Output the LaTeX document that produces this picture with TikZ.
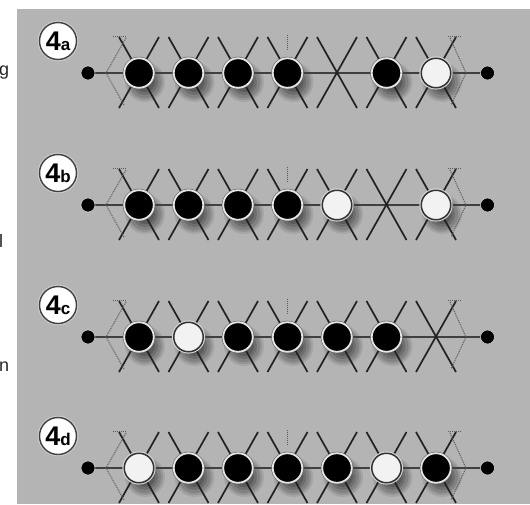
\documentclass[tikz,border=0pt]{standalone}
\usepackage{fontspec}
\setmainfont{Liberation Sans}
\definecolor{panelgray}{HTML}{B4B4B4}
\definecolor{armcol}{HTML}{222222}
\tikzset{
  panel/.style={fill=panelgray},
  lefttext/.style={font=\fontsize{18}{22}\selectfont, text=black!85, inner sep=0pt},
  labcirc/.style={circle, fill=white, draw=black!75, line width=1.4pt, minimum size=37pt, inner sep=0pt, font=\bfseries,
    preaction={draw=white!80!black, line width=3.6pt}},
  blacksite/.style={circle, fill=black, draw=white!90!black, line width=1.8pt, minimum size=29.5pt, inner sep=0pt,
    preaction={draw=black!60, line width=3pt}},
  whitesite/.style={circle, fill=white!95!black, draw=black!80, line width=1.5pt, minimum size=29.5pt, inner sep=0pt,
    preaction={draw=white!85!black, line width=3.6pt}},
  enddot/.style={circle, fill=black, draw=white!80!black, line width=0.6pt, minimum size=14pt, inner sep=0pt},
  arm/.style={draw=armcol, line width=1.7pt},
  bond/.style={draw=black!75, line width=1.5pt},
  ghost/.style={draw=black!65, densely dotted, line width=1pt}
}
\begin{document}
\begin{tikzpicture}[x=1pt,y=-1pt]
\useasboundingbox (0,0) rectangle (530,504);
\fill[panel] (17,9) rectangle (530,504);
\node[lefttext, anchor=base west] (tg) at (-1,75) {g};
\node[lefttext, anchor=base west] (tl) at (-1,247) {l};
\node[lefttext, anchor=base west] (tn) at (-1,371) {n};
\foreach \cy/\lab/\cfg [count=\r] in {73/a/{1,1,1,1,0,1,2}, 205/b/{1,1,1,1,2,0,2}, 337/c/{1,2,1,1,1,1,0}, 468/d/{2,1,1,1,1,2,1}} {
  \coordinate (L\r) at (88,\cy);
  \coordinate (R\r) at (487.5,\cy);
  \foreach \t [count=\k from 0] in \cfg { \coordinate (s\r-\k) at ({139+49.5*\k},\cy); }
  % shadows
  \foreach \t [count=\k from 0] in \cfg {
    \ifnum\t>0
      \foreach \rr/\op in {20/0.08,18/0.1,16/0.12,13/0.15,10/0.17}
        { \fill[black,opacity=\op] ([shift={(6,9)}]s\r-\k) circle (\rr pt); }
    \fi
  }
  % bond line
  \draw[bond] (L\r) -- (R\r);
  % arms
  \foreach \t [count=\k from 0] in \cfg {
    \draw[arm] ([shift={(-20,-36)}]s\r-\k) -- ([shift={(20,35)}]s\r-\k);
    \draw[arm] ([shift={(20,-36)}]s\r-\k) -- ([shift={(-20,35)}]s\r-\k);
  }
  % ghost lines
  \draw[ghost] ([shift={(-13,-35)}]s\r-0) -- ([shift={(-33,0)}]s\r-0) -- ([shift={(-15,32)}]s\r-0);
  \draw[ghost] ([shift={(-26,-37)}]s\r-0) -- ([shift={(-12,-37)}]s\r-0);
  \draw[ghost] ([shift={(14,-35)}]s\r-6) -- ([shift={(30,0)}]s\r-6) -- ([shift={(15,32)}]s\r-6);
  \draw[ghost] ([shift={(12,-37)}]s\r-6) -- ([shift={(26,-37)}]s\r-6);
  \draw[ghost] ([shift={(0,-38)}]s\r-3) -- ([shift={(0,-22)}]s\r-3);
  % sites
  \foreach \t [count=\k from 0] in \cfg {
    \ifcase\t
      \fill[armcol] (s\r-\k) circle (1.7pt);
    \or \node[blacksite] (c\r-\k) at (s\r-\k) {};
    \or \node[whitesite] (c\r-\k) at (s\r-\k) {};
    \fi
  }
  \node[enddot] (dl\r) at (L\r) {};
  \node[enddot] (dr\r) at (R\r) {};
  \node[labcirc] (lab\r) at (58,\cy-32) {{\fontsize{27}{27}\selectfont 4}{\fontsize{17}{17}\selectfont \lab}};
}
\end{tikzpicture}
\end{document}
